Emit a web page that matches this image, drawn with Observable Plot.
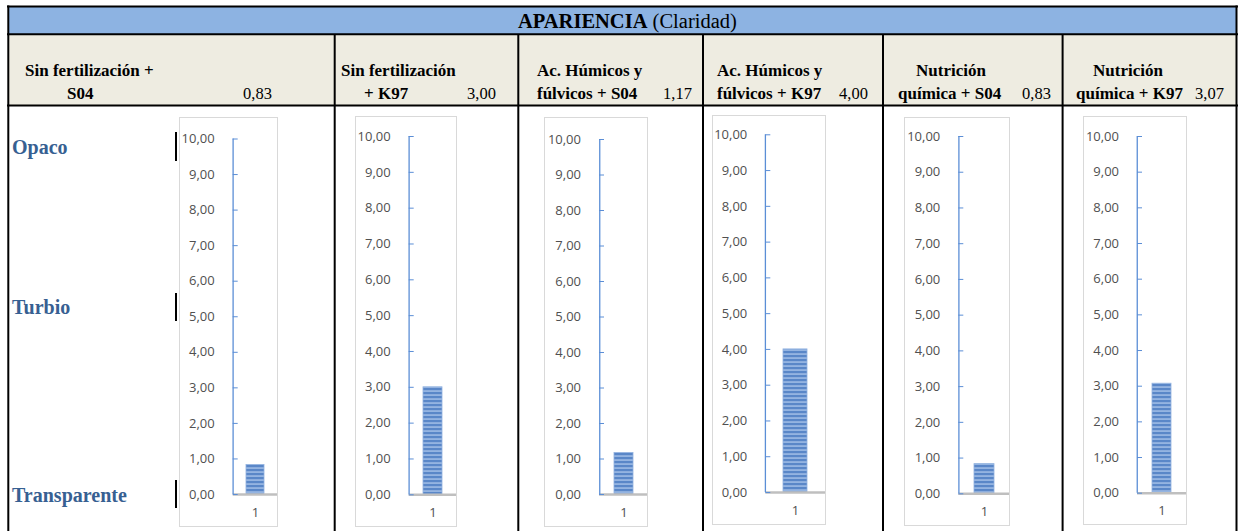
<!DOCTYPE html>
<html>
<head>
<meta charset="utf-8">
<script src="https://cdn.jsdelivr.net/npm/d3@7"></script>
<script src="https://cdn.jsdelivr.net/npm/@observablehq/plot@0.6"></script>
<style>
  html, body { margin: 0; padding: 0; background: #fff; }
  #root { position: relative; width: 1238px; height: 531px; overflow: hidden; }
  #root svg { position: absolute; }
  #root svg.panel { outline: 1px solid #d9d9d9; outline-offset: -1px; }
</style>
</head>
<body>
<div id="root"></div>
<script>
// Clarity scores per treatment
const title = ["APARIENCIA", "(Claridad)"];
const treatmentLine1 = ["Sin fertilización +", "Sin fertilización", "Ac. Húmicos y", "Ac. Húmicos y", "Nutrición", "Nutrición"];
const treatmentLine2 = ["S04", "+ K97", "fúlvicos + S04", "fúlvicos + K97", "química + S04", "química + K97"];
const values = [0.83, 3.00, 1.17, 4.00, 0.83, 3.07];
const yTicks = [0, 1, 2, 3, 4, 5, 6, 7, 8, 9, 10];
const xCategories = ["1"];
const scaleLabels = ["Opaco", "Turbio", "Transparente"];

const fmt = d => d.toFixed(2).replace(".", ",");

// Page layout
const W = 1238, H = 531;
const panelBoxes = [
  {left: 179,  top: 117, width: 99,  height: 410, mt: 21.5, mb: 33,   ml: 53.7},
  {left: 355,  top: 116, width: 102, height: 411, mt: 20,   mb: 32.7, ml: 53.7},
  {left: 544,  top: 117, width: 104, height: 410, mt: 22,   mb: 33,   ml: 55},
  {left: 712,  top: 115, width: 114, height: 410, mt: 19.3, mb: 33,   ml: 53.3},
  {left: 904,  top: 117, width: 106, height: 409, mt: 19,   mb: 32.7, ml: 54.3},
  {left: 1083, top: 116, width: 104, height: 409, mt: 20,   mb: 32.3, ml: 54}
];
const headerPos = [
  {x1: 25,   x2: 67,   xv: 243},
  {x1: 341,  x2: 364,  xv: 467},
  {x1: 537,  x2: 537,  xv: 663},
  {x1: 717,  x2: 717,  xv: 839},
  {x1: 916,  x2: 898,  xv: 1022},
  {x1: 1093, x2: 1076, xv: 1195}
];
const dividers = [334.7, 518.3, 703, 883, 1062.6];
const scaleLabelY = [154, 314, 502];
const scaleMarkY = [[132, 161], [293, 321], [480, 508]];
const marginRight = 0.5;
const gray = "#505050";
const axisBlue = "#5b8ed6";

const root = d3.select("#root");

// Table background, grid and header text
const bg = root.append("svg").attr("width", W).attr("height", H)
  .style("left", "0px").style("top", "0px")
  .style("font-family", "'Liberation Serif', serif");

const defs = bg.append("defs");
const pat = defs.append("pattern").attr("id", "stripes")
  .attr("patternUnits", "userSpaceOnUse").attr("width", 8).attr("height", 4);
pat.append("rect").attr("width", 8).attr("height", 4).attr("fill", "#5a87c8");
pat.append("rect").attr("y", 2.4).attr("width", 8).attr("height", 1.3).attr("fill", "#adc7ec");

bg.append("rect").attr("x", 8).attr("y", 7).attr("width", 1228).attr("height", 27).attr("fill", "#8db3e2");
bg.append("rect").attr("x", 8).attr("y", 34).attr("width", 1228).attr("height", 71).attr("fill", "#eeece1");

const grid = bg.append("g").attr("stroke", "#000").attr("stroke-width", 2);
grid.append("line").attr("x1", 7).attr("x2", 1238).attr("y1", 6.5).attr("y2", 6.5);
grid.append("line").attr("x1", 7).attr("x2", 1238).attr("y1", 34.3).attr("y2", 34.3);
grid.append("line").attr("x1", 7).attr("x2", 1238).attr("y1", 105.6).attr("y2", 105.6);
grid.append("line").attr("x1", 8.3).attr("x2", 8.3).attr("y1", 5.5).attr("y2", H);
grid.append("line").attr("x1", 1236.5).attr("x2", 1236.5).attr("y1", 5.5).attr("y2", H);
dividers.forEach(x => grid.append("line").attr("x1", x).attr("x2", x).attr("y1", 34).attr("y2", H));

const t = bg.append("text").attr("x", 518).attr("y", 28).attr("font-size", 20.5).attr("fill", "#000");
t.append("tspan").attr("font-weight", "bold").text(title[0]);
t.append("tspan").text(" " + title[1]);

headerPos.forEach((p, i) => {
  bg.append("text").attr("x", p.x1).attr("y", 76).attr("font-size", 17).attr("font-weight", "bold").text(treatmentLine1[i]);
  bg.append("text").attr("x", p.x2).attr("y", 99).attr("font-size", 17).attr("font-weight", "bold").text(treatmentLine2[i]);
  bg.append("text").attr("x", p.xv).attr("y", 99).attr("font-size", 16.5).text(fmt(values[i]));
});

scaleLabels.forEach((s, i) => {
  bg.append("text").attr("x", 12).attr("y", scaleLabelY[i]).attr("font-size", 20)
    .attr("font-weight", "bold").attr("fill", "#376092").text(s);
  bg.append("line").attr("x1", 176).attr("x2", 176)
    .attr("y1", scaleMarkY[i][0]).attr("y2", scaleMarkY[i][1])
    .attr("stroke", "#000").attr("stroke-width", 2);
});

// One small bar chart per treatment
values.forEach((v, i) => {
  const b = panelBoxes[i];
  const plotWidth = b.width - b.ml - marginRight;
  const chart = Plot.plot({
    width: b.width,
    height: b.height,
    marginLeft: b.ml,
    marginRight,
    marginTop: b.mt,
    marginBottom: b.mb,
    style: {fontFamily: "'Open Sans', sans-serif", fontSize: "13px", background: "#fff", overflow: "visible", color: gray},
    x: {domain: xCategories, padding: 0.43, axis: null},
    y: {domain: [0, 10], axis: null},
    marks: [
      Plot.barY([{c: xCategories[0], v}], {x: "c", y: "v", fill: "url(#stripes)", stroke: "#8fb0df", strokeWidth: 0.8}),
      Plot.ruleY([0], {stroke: "#bfbfbf", strokeWidth: 2.5}),
      // vertical axis line at the left edge of the plot area
      Plot.ruleX(xCategories, {x: d => d, dx: -plotWidth / 2, stroke: axisBlue, strokeWidth: 1.3}),
      Plot.axisY(yTicks, {tickSize: -5, tickPadding: 23.5, tickFormat: fmt, stroke: axisBlue, fill: gray, fontSize: 13, label: null}),
      Plot.axisX(xCategories, {tickSize: 0, tickPadding: 13, stroke: gray, fill: gray, fontSize: 13, label: null})
    ]
  });
  chart.classList.add("panel");
  chart.style.left = b.left + "px";
  chart.style.top = b.top + "px";
  root.node().appendChild(chart);
});
</script>
</body>
</html>
